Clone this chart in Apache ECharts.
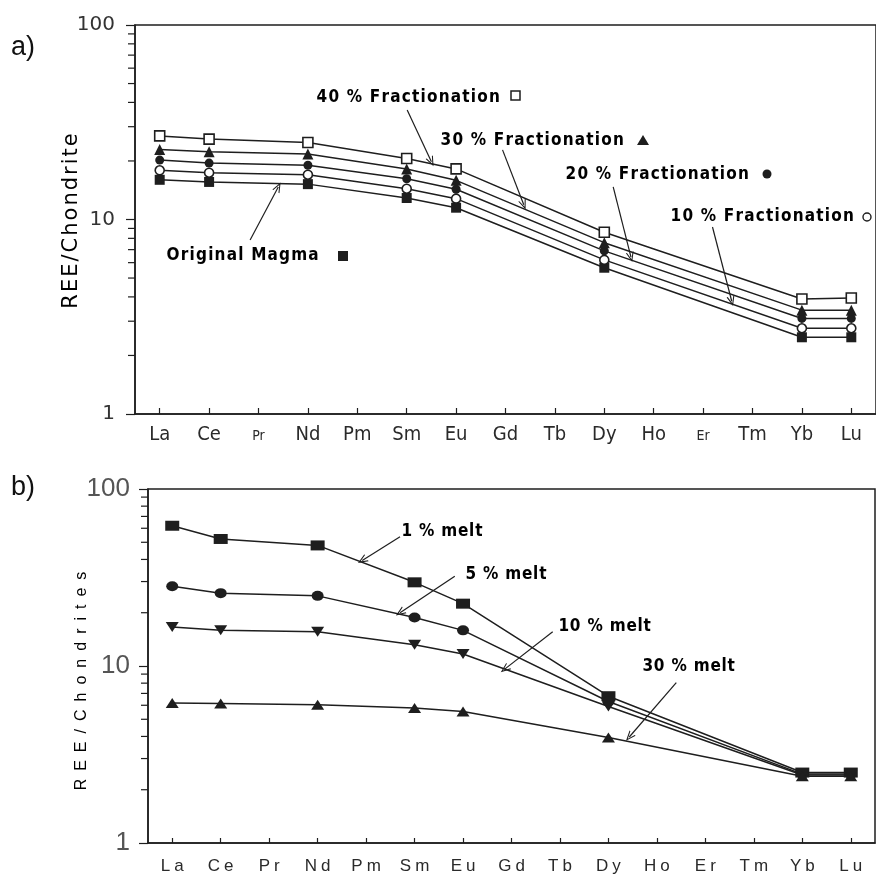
<!DOCTYPE html>
<html>
<head>
<meta charset="utf-8">
<script src="https://cdn.jsdelivr.net/npm/echarts@6/dist/echarts.min.js"></script>
<style>
  html, body { margin: 0; padding: 0; background: #fff; }
  #chart { width: 876px; height: 877px; }
</style>
</head>
<body>
<div id="chart"></div>
<script>
// Rare earth elements in atomic order (x axis)
const elements = ['La', 'Ce', 'Pr', 'Nd', 'Pm', 'Sm', 'Eu', 'Gd', 'Tb', 'Dy', 'Ho', 'Er', 'Tm', 'Yb', 'Lu'];
// Elements actually analysed
const sampled = ['La', 'Ce', 'Nd', 'Sm', 'Eu', 'Dy', 'Yb', 'Lu'];

// a) fractional crystallisation, REE / chondrite
const magmaOriginal = [16.0, 15.6, 15.2, 12.9, 11.5, 5.65, 2.48, 2.48];
const frac10 = [17.9, 17.4, 17.0, 14.4, 12.8, 6.2, 2.76, 2.76];
const frac20 = [20.2, 19.5, 19.0, 16.2, 14.3, 6.9, 3.1, 3.1];
const frac30 = [22.9, 22.3, 21.7, 18.2, 15.9, 7.6, 3.42, 3.42];
const frac40 = [26.9, 25.9, 24.9, 20.6, 18.2, 8.6, 3.9, 3.95];

// b) partial melting, REE / chondrites
const melt1 = [62.0, 52.2, 48.0, 29.7, 22.5, 6.75, 2.5, 2.5];
const melt5 = [28.2, 25.8, 24.9, 18.8, 15.9, 6.3, 2.45, 2.45];
const melt10 = [16.6, 15.9, 15.6, 13.2, 11.7, 5.9, 2.42, 2.42];
const melt30 = [6.18, 6.13, 6.04, 5.79, 5.54, 3.95, 2.38, 2.38];

// Log axis tick labels and the minor ticks between decades
const yTickLabels = ['1', '10', '100'];
const minorTickValues = [2, 3, 4, 5, 6, 7, 8, 9, 20, 30, 40, 50, 60, 70, 80, 90];

const INK = '#1e1e1e';
const idxOf = name => elements.indexOf(name);
const pairs = vals => sampled.map((el, i) => [idxOf(el), vals[i]]);
const spaced = (str, key) => str.split('').map(c => '{' + key + '|' + c + '}').join('');

// Open chevron used as arrow head on the annotation pointers
const chevron = 'path://M0,10 L5,0 L10,10 L8.6,10 L5,2.8 L1.4,10 Z';

// Annotation pointers, given in axis units: [xStart, yStart, xEnd, yEnd]
const arrowsA = [
  [1.83, 7.85, 2.40, 14.7],
  [5.01, 36.6, 5.50, 19.8],
  [6.94, 22.8, 7.37, 11.9],
  [9.18, 14.7, 9.54, 6.4],
  [11.19, 9.15, 11.58, 3.8]
];
const arrowsB = [
  [4.70, 53.8, 3.92, 39.5],
  [5.83, 32.1, 4.70, 20.0],
  [7.85, 15.6, 6.86, 9.6],
  [10.40, 8.05, 9.43, 3.97]
];

const narrowFont = "'Liberation Sans Narrow', 'DejaVu Sans Condensed', 'Arial Narrow', sans-serif";
const annoRich = {
  f: { fontFamily: narrowFont, fontWeight: 'bold', fontSize: 17, color: '#2a2a2a', padding: [0, 0.6] }
};
const meltRich = {
  f: { fontFamily: narrowFont, fontWeight: 'bold', fontSize: 17, color: '#2a2a2a', padding: [0, 0.4] }
};

function markArrows(list) {
  return {
    silent: true,
    animation: false,
    symbol: ['none', chevron],
    symbolSize: [8, 10],
    label: { show: false },
    lineStyle: { color: INK, width: 1.2, type: 'solid' },
    emphasis: { disabled: true },
    data: list.map(a => [{ coord: [a[0], a[1]] }, { coord: [a[2], a[3]] }])
  };
}

function lineSeries(grid, name, vals, symbol, size, open) {
  return {
    type: 'line',
    name: name,
    xAxisIndex: grid,
    yAxisIndex: grid,
    data: pairs(vals),
    symbol: symbol,
    symbolSize: size,
    showAllSymbol: true,
    lineStyle: { color: INK, width: 1.5 },
    itemStyle: open
      ? { color: '#ffffff', borderColor: INK, borderWidth: 1.6 }
      : { color: INK, borderColor: INK, borderWidth: 0 },
    emphasis: { disabled: true },
    animation: false,
    z: 3
  };
}

function xAxis(grid, labelCfg, tickLen) {
  const idx = elements.map((e, i) => i);
  return {
    type: 'value',
    gridIndex: grid,
    min: -0.5,
    max: 14.5,
    splitLine: { show: false },
    axisLine: { show: true, onZero: false, lineStyle: { color: INK, width: 1.5 } },
    axisTick: { show: true, inside: true, length: tickLen, customValues: idx, lineStyle: { color: INK, width: 1.2 } },
    axisLabel: Object.assign({ show: true, customValues: idx }, labelCfg)
  };
}

function yAxis(grid, labelCfg) {
  return {
    type: 'log',
    logBase: 10,
    gridIndex: grid,
    min: 1,
    max: 100,
    splitLine: { show: false },
    minorTick: { show: false },
    axisLine: { show: true, onZero: false, lineStyle: { color: INK, width: 1.5 } },
    axisTick: { show: true, inside: false, length: 9, lineStyle: { color: INK, width: 1.2 } },
    axisLabel: Object.assign({ formatter: v => yTickLabels[Math.round(Math.log10(v))] }, labelCfg)
  };
}

const chart = echarts.init(document.getElementById('chart'), null, { renderer: 'canvas' });

const textGraphics = [
  // panel letters
  { type: 'text', x: 11, y: 48, style: { text: 'a)', font: "27px 'Liberation Sans', sans-serif", fill: '#111', verticalAlign: 'middle' } },
  { type: 'text', x: 11, y: 488, style: { text: 'b)', font: "27px 'Liberation Sans', sans-serif", fill: '#111', verticalAlign: 'middle' } },
  // axis titles
  { type: 'text', x: 72, y: 221, rotation: Math.PI / 2,
    style: { text: spaced('REE/Chondrite', 't'), align: 'center', verticalAlign: 'middle',
      rich: { t: { fontFamily: "'DejaVu Sans', sans-serif", fontSize: 21, color: '#333', padding: [0, 1] } } } },
  { type: 'text', x: 82, y: 681, rotation: Math.PI / 2,
    style: { text: spaced('REE/Chondrites', 'y'), align: 'center', verticalAlign: 'middle',
      rich: { y: { fontFamily: "'Liberation Sans', Arial, sans-serif", fontSize: 16, color: '#666', padding: [0, 4] } } } },
  // panel a annotations
  { type: 'text', x: 316, y: 98, style: { text: spaced('40 % Fractionation', 'f'), rich: annoRich, verticalAlign: 'middle' } },
  { type: 'rect', x: 511, y: 91, shape: { x: 0, y: 0, width: 9, height: 9 }, style: { fill: '#fff', stroke: INK, lineWidth: 1.5 } },
  { type: 'text', x: 440, y: 141, style: { text: spaced('30 % Fractionation', 'f'), rich: annoRich, verticalAlign: 'middle' } },
  { type: 'polygon', shape: { points: [[643, 135], [649, 145], [637, 145]] }, style: { fill: INK } },
  { type: 'text', x: 565, y: 175, style: { text: spaced('20 % Fractionation', 'f'), rich: annoRich, verticalAlign: 'middle' } },
  { type: 'circle', shape: { cx: 767, cy: 174, r: 4.5 }, style: { fill: INK } },
  { type: 'text', x: 670, y: 217, style: { text: spaced('10 % Fractionation', 'f'), rich: annoRich, verticalAlign: 'middle' } },
  { type: 'circle', shape: { cx: 867, cy: 217, r: 4 }, style: { fill: '#fff', stroke: INK, lineWidth: 1.4 } },
  { type: 'text', x: 166, y: 256, style: { text: spaced('Original Magma', 'f'), rich: annoRich, verticalAlign: 'middle' } },
  { type: 'rect', x: 338, y: 251, shape: { x: 0, y: 0, width: 10, height: 10 }, style: { fill: INK } },
  // panel b annotations
  { type: 'text', x: 401, y: 532, style: { text: spaced('1 % melt', 'f'), rich: meltRich, verticalAlign: 'middle' } },
  { type: 'text', x: 465, y: 575, style: { text: spaced('5 % melt', 'f'), rich: meltRich, verticalAlign: 'middle' } },
  { type: 'text', x: 558, y: 627, style: { text: spaced('10 % melt', 'f'), rich: meltRich, verticalAlign: 'middle' } },
  { type: 'text', x: 642, y: 667, style: { text: spaced('30 % melt', 'f'), rich: meltRich, verticalAlign: 'middle' } }
];

const option = {
  backgroundColor: '#ffffff',
  animation: false,
  grid: [
    { left: 135, top: 25, width: 744, height: 389, show: true, borderColor: INK, borderWidth: 1.5, backgroundColor: 'transparent' },
    { left: 148, top: 489, width: 727, height: 354, show: true, borderColor: INK, borderWidth: 1.5, backgroundColor: 'transparent' }
  ],
  xAxis: [
    xAxis(0, {
      margin: 11,
      formatter: v => {
        const n = elements[v];
        return (n === 'Pr' || n === 'Er') ? '{s|' + n + '}' : '{b|' + n + '}';
      },
      rich: {
        b: { fontFamily: narrowFont, fontSize: 20, color: '#2a2a2a' },
        s: { fontFamily: narrowFont, fontSize: 14, color: '#2a2a2a', padding: [4, 0, 0, 0] }
      }
    }, 6),
    xAxis(1, {
      margin: 15,
      formatter: v => spaced(elements[v], 'c'),
      rich: {
        c: { fontFamily: "'Liberation Sans', Arial, sans-serif", fontSize: 17, color: '#2a2a2a', padding: [0, 2] }
      }
    }, 5)
  ],
  yAxis: [
    yAxis(0, { fontFamily: "'DejaVu Sans', sans-serif", fontSize: 20, color: '#333', margin: 20 }),
    yAxis(1, { fontFamily: "'Liberation Sans', Arial, sans-serif", fontSize: 26, color: '#555', margin: 18 })
  ],
  series: [
    Object.assign(lineSeries(0, 'Original Magma', magmaOriginal, 'rect', 10, false), { markLine: markArrows(arrowsA) }),
    lineSeries(0, '10 % Fractionation', frac10, 'circle', 9, true),
    lineSeries(0, '20 % Fractionation', frac20, 'circle', 9, false),
    lineSeries(0, '30 % Fractionation', frac30, 'triangle', 11, false),
    lineSeries(0, '40 % Fractionation', frac40, 'rect', 10, true),
    Object.assign(lineSeries(1, '1 % melt', melt1, 'rect', [14, 10], false), { markLine: markArrows(arrowsB) }),
    lineSeries(1, '5 % melt', melt5, 'circle', [12, 10], false),
    Object.assign(lineSeries(1, '10 % melt', melt10, 'triangle', [13, 10], false), { symbolRotate: 180 }),
    lineSeries(1, '30 % melt', melt30, 'triangle', [13, 10], false)
  ],
  graphic: textGraphics
};

chart.setOption(option);

// Minor log ticks (2..9 within each decade), placed through each grid's axes
const tickGraphics = [];
[0, 1].forEach(g => {
  minorTickValues.forEach(v => {
    const p = chart.convertToPixel({ xAxisIndex: g, yAxisIndex: g }, [-0.5, v]);
    tickGraphics.push({
      type: 'line',
      shape: { x1: p[0] - 7, y1: p[1], x2: p[0], y2: p[1] },
      style: { stroke: INK, lineWidth: 1.2 },
      silent: true
    });
  });
});
chart.setOption({ graphic: textGraphics.concat(tickGraphics) });
</script>
</body>
</html>
